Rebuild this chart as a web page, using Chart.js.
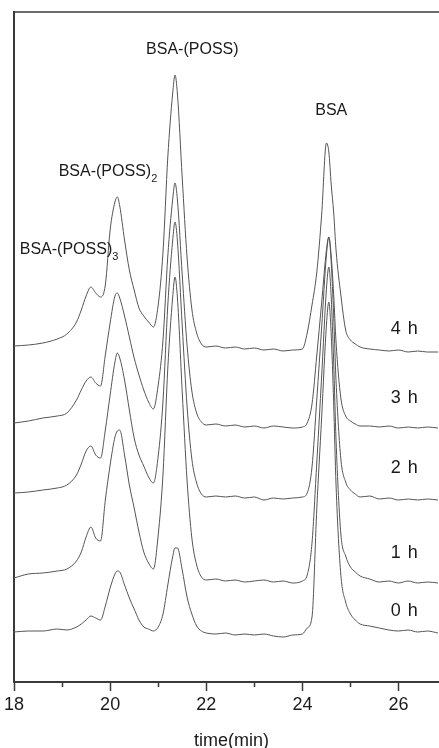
<!DOCTYPE html>
<html>
<head>
<meta charset="utf-8">
<script src="https://cdn.jsdelivr.net/npm/chart.js@4.4.1/dist/chart.umd.min.js"></script>
<style>
  html, body { margin: 0; padding: 0; background: #fff; overflow: hidden; }
  #wrap { width: 439px; height: 748px; overflow: hidden; }
</style>
</head>
<body>
<div id="wrap"><canvas id="c" width="452" height="748" style="width:452px;height:748px"></canvas></div>
<script>
// retention time (min), shared by all traces
const timeMin = [18.0, 18.3, 18.6, 18.9, 19.1, 19.3, 19.4, 19.5, 19.6, 19.7, 19.8, 19.9, 20.0, 20.1, 20.15, 20.2, 20.3, 20.4, 20.5, 20.6, 20.7, 20.8, 20.9, 21.0, 21.1, 21.2, 21.3, 21.35, 21.4, 21.5, 21.6, 21.7, 21.8, 21.9, 22.0, 22.2, 22.4, 22.6, 22.8, 23.0, 23.2, 23.4, 23.6, 23.8, 24.0, 24.1, 24.2, 24.3, 24.4, 24.5, 24.55, 24.6, 24.65, 24.7, 24.8, 24.9, 25.0, 25.1, 25.2, 25.4, 25.6, 25.8, 26.0, 26.2, 26.4, 26.6, 26.82]

// detector signal (a.u., traces stacked with offsets)
const trace4h = [336,337,339,343,348,360,372,386,395,389,385,397,452,480,485,476,442,412,392,374,366,360,355,377,430,525,588,607,588,504,425,373,349,338,335,336,334,335,333,334,332,333,331,332,333,349,377,410,467,539,530,497,470,432,387,352,342,338,335,333,332,331,332,330,331,330,330]
const trace3h = [259,261,264,266,269,282,292,301,305,299,296,327,359,386,389,384,366,345,324,307,292,280,273,297,342,426,482,499,482,407,337,291,269,260,257,258,256,257,255,256,254,256,255,254,255,259,278,327,379,432,445,426,388,340,284,266,261,258,256,256,255,256,254,255,254,255,254]
const trace2h = [189,190,192,194,197,207,218,231,236,227,224,252,287,320,329,324,302,272,244,227,216,205,199,226,281,377,441,460,441,356,276,223,199,188,185,186,185,186,184,185,182,184,183,184,185,189,215,283,354,427,445,419,367,301,223,200,192,188,185,186,183,184,182,183,182,183,182]
const trace1h = [104,108,109,111,113,121,130,145,155,144,141,182,217,245,251,252,227,197,174,150,130,119,113,147,208,314,384,405,384,290,202,144,117,105,102,103,101,102,100,101,102,100,101,99,101,107,139,220,305,393,415,384,321,242,148,126,115,110,106,103,100,101,99,101,99,100,99]
const trace0h = [50,51,51,53,52,55,58,62,66,64,62,76,94,108,111,110,97,84,73,62,55,53,51,55,68,97,125,134,134,112,85,68,56,51,49,48,49,47,48,47,48,46,45,47,48,54,65,174,264,357,380,347,280,197,107,80,68,62,58,56,54,52,51,52,50,51,49]

const traceNames = ['4 h', '3 h', '2 h', '1 h', '0 h']
const traces = [trace4h, trace3h, trace2h, trace1h, trace0h]

const lineColor = '#555555'
const frameColor = '#3a3a3a'
const textColor = '#1a1a1a'
const font = "'Liberation Sans', Arial, Helvetica, sans-serif"

// text placed in data coordinates
const peakLabels = [
  { text: 'BSA-(POSS)', sub: '', t: 21.71, v: 632, align: 'center' },
  { text: 'BSA', sub: '', t: 24.6, v: 571, align: 'center' },
  { text: 'BSA-(POSS)', sub: '2', t: 18.93, v: 510, align: 'left' },
  { text: 'BSA-(POSS)', sub: '3', t: 18.12, v: 432, align: 'left' },
]
const hourLabelT = 26.13
const hourLabelV = [353, 284, 214, 129, 71]

const decorations = {
  id: 'decorations',
  afterDraw(chart) {
    const { ctx, chartArea } = chart
    const x = chart.scales.x, y = chart.scales.y
    ctx.save()
    // top frame line
    ctx.strokeStyle = frameColor
    ctx.lineWidth = 1.5
    ctx.beginPath()
    ctx.moveTo(chartArea.left, chartArea.top)
    ctx.lineTo(chart.width, chartArea.top)
    ctx.stroke()
    // minor ticks
    for (let t = 19; t < x.max; t += 2) {
      const px = Math.round(x.getPixelForValue(t)) + 0.5
      ctx.beginPath()
      ctx.moveTo(px, chartArea.bottom)
      ctx.lineTo(px, chartArea.bottom + 5)
      ctx.stroke()
    }
    // peak labels
    ctx.fillStyle = textColor
    ctx.textBaseline = 'middle'
    peakLabels.forEach(l => {
      ctx.font = '16px ' + font
      ctx.textAlign = l.align
      const px = x.getPixelForValue(l.t), py = y.getPixelForValue(l.v)
      ctx.fillText(l.text, px, py)
      if (l.sub) {
        const w = ctx.measureText(l.text).width
        ctx.font = '11px ' + font
        ctx.textAlign = 'left'
        ctx.fillText(l.sub, px + w, py + 7)
      }
    })
    // hour labels
    ctx.font = '18px ' + font
    ctx.textAlign = 'center'
    if ('letterSpacing' in ctx) ctx.letterSpacing = '1px'
    traceNames.forEach((n, i) => {
      ctx.fillText(n, x.getPixelForValue(hourLabelT), y.getPixelForValue(hourLabelV[i]))
    })
    ctx.restore()
  }
}

new Chart(document.getElementById('c'), {
  type: 'scatter',
  data: {
    datasets: traces.map((tr, i) => ({
      label: traceNames[i],
      data: timeMin.map((t, k) => ({ x: t, y: tr[k] })),
      showLine: true,
      borderColor: lineColor,
      borderWidth: 1,
      pointRadius: 0,
      cubicInterpolationMode: 'monotone',
      fill: false,
    }))
  },
  options: {
    responsive: false,
    devicePixelRatio: 1,
    animation: false,
    layout: { padding: { left: 14, top: 12, right: 2, bottom: 0 } },
    plugins: { legend: { display: false }, tooltip: { enabled: false } },
    scales: {
      x: {
        type: 'linear',
        min: 18,
        max: 27.05,
        afterFit(s) { s.height = 66 },
        ticks: {
          stepSize: 1,
          autoSkip: false,
          maxRotation: 0,
          padding: 3,
          color: textColor,
          font: { size: 18, family: font },
          callback: v => (v % 2 === 0 ? v : ''),
        },
        grid: {
          display: true,
          drawOnChartArea: false,
          drawTicks: true,
          tickLength: 9,
          tickWidth: 1.5,
          tickColor: c => (c.tick && c.tick.value % 2 === 0 ? frameColor : 'rgba(0,0,0,0)'),
        },
        border: { display: true, color: frameColor, width: 2 },
        title: {
          display: true,
          text: 'time(min)',
          color: textColor,
          font: { size: 18, family: font },
          padding: { top: 7, bottom: -4 },
        },
      },
      y: {
        min: 0,
        max: 670,
        afterFit(s) { s.width = 0 },
        ticks: { display: false },
        grid: { display: false, drawTicks: false },
        border: { display: true, color: frameColor, width: 2 },
      },
    },
  },
  plugins: [decorations],
})
</script>
</body>
</html>
